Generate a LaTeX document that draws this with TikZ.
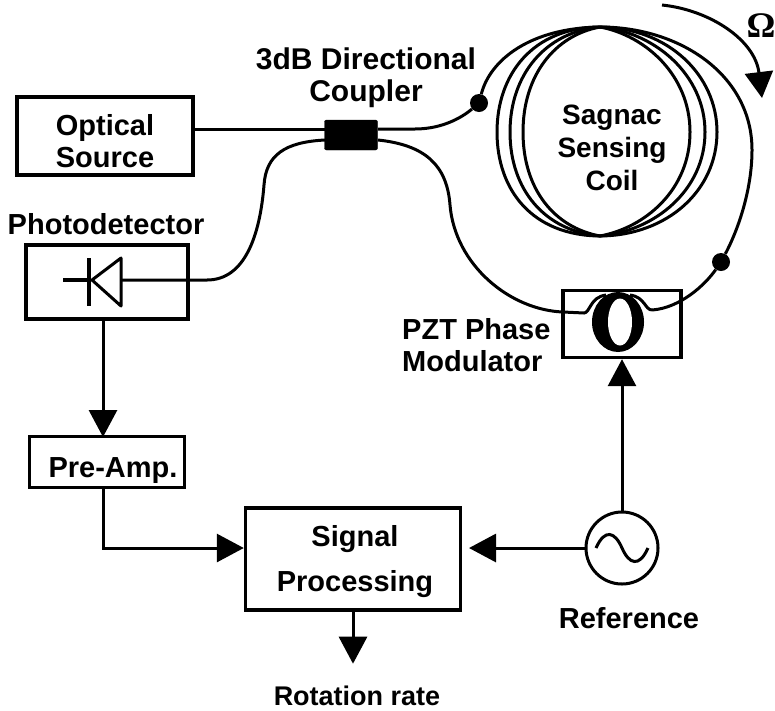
\documentclass[tikz,border=0pt]{standalone}
\usepackage{fontspec}
\setmainfont{Liberation Sans}
\newfontfamily\omegafont{Liberation Serif}
\usetikzlibrary{arrows.meta, positioning, shapes.geometric, calc}
\tikzset{
  blockbox/.style={draw=black, line width=3.4pt, inner sep=0pt, align=center, font=\labelfont},
  lbl/.style={font=\labelfont, align=center, inner sep=0pt},
  fibre/.style={line width=3pt},
  sigline/.style={line width=3pt, -{Triangle[length=27pt, width=28pt]}},
  fibredot/.style={circle, fill=black, inner sep=0pt, minimum size=18pt}
}
\newcommand{\labelfont}{\fontsize{29}{32}\selectfont\bfseries}

\begin{document}
\begin{tikzpicture}[x=1pt, y=-1pt]
  \useasboundingbox (0,0) rectangle (775,710);

  % Blocks
  \node[blockbox, minimum width=176pt, minimum height=78pt] (source) at (105,136) {};
  \node[blockbox, minimum width=162pt, minimum height=74pt] (detector) at (107,282) {};
  \node[blockbox, minimum width=155pt, minimum height=51pt] (preamp) at (107,462) {};
  \node[blockbox, minimum width=215pt, minimum height=102pt] (signal) at (353,559) {};
  \node[blockbox, minimum width=118pt, minimum height=67pt] (pzt) at (622,324) {};
  \node[draw=black, fill=black, rounded corners=2pt, minimum width=53pt, minimum height=30pt, inner sep=0pt] (coupler) at (351,135) {};
  \node[circle, draw=black, line width=3pt, minimum size=72pt, inner sep=0pt] (osc) at (622,548) {};

  % Labels
  \node[lbl] (sourcelbl) at (105,141) {Optical\\Source};
  \node[lbl] (prelbl) at (113,471) {Pre-Amp.};
  \node[lbl] (signallbl) at (355,562) {Signal\\[13pt]Processing};
  \node[lbl, font=\fontsize{30}{32}\selectfont\bfseries] (couplerlbl) at (366,78) {3dB Directional\\Coupler};
  \node[lbl] (detlbl) at (106,224) {Photodetector};
  \node[lbl, align=left, anchor=west] (pztlbl) at (402,345) {PZT Phase\\Modulator};
  \node[lbl, font=\fontsize{28}{33}\selectfont\bfseries] (coillbl) at (612,148) {Sagnac\\Sensing\\Coil};
  \node[lbl] (reflbl) at (629,618) {Reference};
  \node[lbl, font=\fontsize{27}{32}\selectfont\bfseries] (ratelbl) at (357,696) {Rotation rate};
  \node[font=\omegafont\fontsize{36}{38}\selectfont\bfseries, inner sep=0pt] (omega) at (761,26) {Ω};

  % Sensing coil
  \coordinate (coiltop) at (600,27);
  \coordinate (coilbot) at (600,236);
  \foreach \l/\r/\d in {523/690/45, 510/705/55, 497/717/68} {
      \draw[fibre] (coiltop) .. controls ({600-\d},{27+(70-\d)/3}) and (\l,75) .. (\l,132)
            .. controls (\l,190) and ({600-\d},{236-(70-\d)/3}) .. (coilbot)
            .. controls ({600+\d},{236-(70-\d)/3}) and (\r,190) .. (\r,132)
            .. controls (\r,75) and ({600+\d},{27+(70-\d)/3}) .. (coiltop);
  }

  % Fibre dots
  \node[fibredot] (dotl) at (479,103) {};
  \node[fibredot] (dotr) at (721,262) {};

  % Fibre path
  \coordinate (cpla) at (325,129);
  \coordinate (cplb) at (325,140);
  \coordinate (cpra) at (378,129);
  \coordinate (cprb) at (378,140);
  \coordinate (pztin) at (563,312);
  \coordinate (pztout) at (652,310);
  \coordinate (diodein) at (121,280);
  \draw[fibre] (source.east |- cpla) -- (cpla);
  \draw[fibre] (cplb) .. controls (285,142) and (266,155) .. (264,185)
        .. controls (260,235) and (245,280) .. (207,280) -- (diodein);
  \draw[fibre] (cpra) -- (415,129) .. controls (445,129) and (465,115) .. (dotl);
  \draw[fibre] (dotl) .. controls (490,60) and (530,28) .. (coiltop);
  \draw[fibre] (cprb) .. controls (425,145) and (447,165) .. (450,205)
        .. controls (455,265) and (510,310) .. (pztin);
  \draw[fibre] (coiltop) .. controls (680,27) and (752,75) .. (752,150)
        .. controls (752,190) and (738,230) .. (dotr);
  \draw[fibre] (dotr) .. controls (705,285) and (680,308) .. (pztout);

  % Photodiode
  \draw[line width=3.4pt] (63,280) -- (89,280);
  \draw[line width=3.4pt] (89,258) -- (89,306);
  \draw[line width=3pt, line join=round] (121,258) -- (92,280) -- (121,306) -- cycle;

  % Modulator coil
  \draw[fibre] (pztin) -- (584,313) .. controls (590,313) and (590,297) .. (606,295);
  \draw[fibre] (pztout) .. controls (645,310) and (645,297) .. (630,295);
  \node[ellipse, fill=black, minimum width=52pt, minimum height=60pt, inner sep=0pt] (pztcoil) at (618,322) {};
  \node[ellipse, fill=white, minimum width=24pt, minimum height=47pt, inner sep=0pt] (pzthole) at (620,322) {};

  % Oscillator
  \draw[fibre] (596,548) .. controls (605,528) and (615,532) .. (622,548)
        .. controls (629,564) and (639,568) .. (648,548);

  % Signal arrows
  \coordinate (detout) at (103,319);
  \coordinate (prein) at (103,437);
  \coordinate (preout) at (103,488);
  \coordinate (sigright) at (469,548);
  \draw[sigline] (detout) -- (prein);
  \draw[sigline] (preout) |- (signal.west |- osc);
  \draw[sigline] (osc.west) -- (sigright);
  \draw[sigline] (osc.north) -- (pzt.south);
  \draw[sigline] (signal.south) -- ($(signal.south)+(0,52)$);

  % Rotation arrow
  \coordinate (rotstart) at (662,5);
  \coordinate (rotend) at (762,98);
  \draw[line width=3pt, -{Triangle[length=26pt, width=28pt]}] (rotstart) .. controls (710,10) and (755,40) .. (rotend);
\end{tikzpicture}
\end{document}
